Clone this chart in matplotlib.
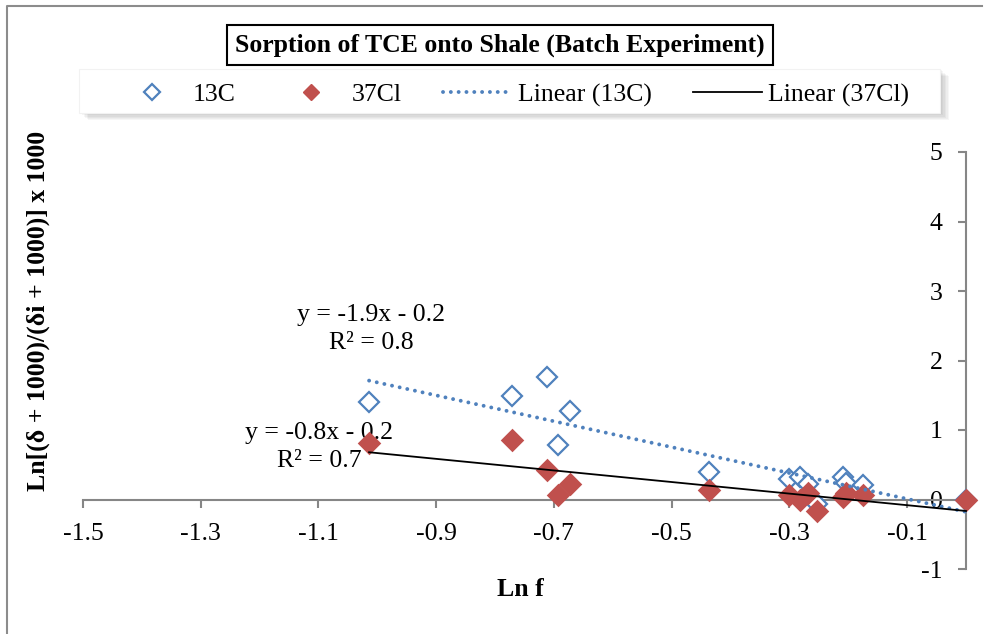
import numpy as np
import matplotlib.pyplot as plt
from matplotlib.lines import Line2D
from matplotlib.patches import Rectangle

plt.rcParams['font.family'] = ['Liberation Serif', 'DejaVu Serif']

# Ln f for each batch sample, with the isotope shifts of both elements
ln_f = [-1.014, -0.771, -0.712, -0.693, -0.673, -0.437, -0.301,
        -0.282, -0.268, -0.253, -0.209, -0.204, -0.175, 0.0]
shift_13c = [1.40, 1.49, 1.76, 0.79, 1.28, 0.39, 0.29,
             0.33, 0.23, -0.07, 0.33, 0.24, 0.21, 0.0]
shift_37cl = [0.82, 0.85, 0.42, 0.06, 0.22, 0.14, 0.06,
              -0.01, 0.09, -0.16, 0.04, 0.09, 0.06, 0.0]

x_ticks = [-1.5, -1.3, -1.1, -0.9, -0.7, -0.5, -0.3, -0.1]
y_ticks = [-1, 0, 1, 2, 3, 4, 5]

BLUE = '#4F81BD'
RED = '#C0504D'
GREY = '#868686'
FS = 18.5


def linear_fit(x, y):
    x = np.asarray(x)
    y = np.asarray(y)
    m, b = np.polyfit(x, y, 1)
    r2 = 1 - np.sum((y - (m * x + b)) ** 2) / np.sum((y - y.mean()) ** 2)
    return m, b, r2


def eq_text(m, b):
    sign = '-' if b < 0 else '+'
    return 'y = %.1fx %s %.1f' % (m, sign, abs(b))


fig = plt.figure(figsize=(9.91, 6.34), dpi=100)
ax = fig.add_axes([83 / 991, 1 - 569 / 634, (966 - 83) / 991, (569 - 152) / 634])

ax.plot(ln_f, shift_13c, linestyle='none', marker='D', markersize=10,
        markerfacecolor='white', markeredgecolor=BLUE, markeredgewidth=1.6,
        zorder=3, clip_on=False)
ax.plot(ln_f, shift_37cl, linestyle='none', marker='D', markersize=10,
        markerfacecolor=RED, markeredgecolor=RED, markeredgewidth=1.8,
        zorder=4, clip_on=False)

# trendlines over the span of the data
xs = np.array([min(ln_f), max(ln_f)])
m1, b1, r1 = linear_fit(ln_f, shift_13c)
m2, b2, r2 = linear_fit(ln_f, shift_37cl)
ax.plot(xs, m1 * xs + b1, color=BLUE, lw=2.8, linestyle=(0, (0.01, 2.0)),
        dash_capstyle='round', zorder=5, clip_on=False)
ax.plot(xs, m2 * xs + b2, color='black', lw=1.3, zorder=6, clip_on=False)

ax.text(-1.011, 2.65, eq_text(m1, b1), ha='center', va='center', fontsize=FS)
ax.text(-1.011, 2.245, 'R² = %.1f' % r1, ha='center', va='center', fontsize=FS)
ax.text(-1.099, 0.964, eq_text(m2, b2), ha='center', va='center', fontsize=FS)
ax.text(-1.099, 0.561, 'R² = %.1f' % r2, ha='center', va='center', fontsize=FS)

ax.set_xlim(-1.5, 0)
ax.set_ylim(-1, 5)
ax.set_xticks(x_ticks)
ax.set_xticklabels(['%.1f' % t for t in x_ticks])
ax.set_yticks(y_ticks)
ax.set_yticklabels([str(t) for t in y_ticks])

ax.spines['top'].set_visible(False)
ax.spines['right'].set_visible(False)
ax.spines['left'].set_position(('data', 0))
ax.spines['bottom'].set_position(('data', 0))
for s in ('left', 'bottom'):
    ax.spines[s].set_color(GREY)
    ax.spines[s].set_linewidth(1.5)
    ax.spines[s].set_zorder(2)
ax.tick_params(axis='both', direction='out', length=6, width=1.5,
               color=GREY, labelsize=FS)
ax.tick_params(axis='x', pad=11)
ax.tick_params(axis='y', pad=11)
ax.patch.set_visible(False)

fig.text(520 / 991, 1 - 590 / 634, 'Ln f', ha='center', va='center',
         fontsize=FS, fontweight='bold')
fig.text(38 / 991, 1 - 311 / 634, 'Ln[(δ + 1000)/(δi + 1000)] x 1000',
         ha='center', va='center', rotation=90, fontsize=FS, fontweight='bold')

fig.text(500 / 991, 1 - 45 / 634, 'Sorption of TCE onto Shale (Batch Experiment)',
         ha='center', va='center', fontsize=FS, fontweight='bold',
         bbox=dict(boxstyle='square,pad=0.32', fc='white', ec='black', lw=1.5))

# legend box with a soft drop shadow
lx0, lx1 = 79 / 991, 940 / 991
ly0, ly1 = 1 - 113 / 634, 1 - 69 / 634
for i in range(1, 7):
    fig.patches.append(Rectangle((lx0 + 1.5 * i / 991, ly0 - 1.2 * i / 634),
                                 lx1 - lx0, ly1 - ly0, transform=fig.transFigure,
                                 fc='black', ec='none', alpha=0.035, zorder=1))
fig.patches.append(Rectangle((lx0, ly0), lx1 - lx0, ly1 - ly0,
                             transform=fig.transFigure, fc='white',
                             ec='#F2F2F2', lw=0.8, zorder=2))

handles = [
    Line2D([], [], linestyle='none', marker='D', markersize=8.5,
           markerfacecolor='white', markeredgecolor=BLUE, markeredgewidth=1.6),
    Line2D([], [], linestyle='none', marker='D', markersize=8.5,
           markerfacecolor=RED, markeredgecolor=RED),
    Line2D([], [], color=BLUE, lw=2.8, linestyle=(0, (0.01, 2.0)),
           dash_capstyle='round'),
    Line2D([], [], color='black', lw=1.3),
]
labels = ['13C', '37Cl', 'Linear (13C)', 'Linear (37Cl)']
leg = fig.legend(handles, labels, loc='center', ncol=4,
                 bbox_to_anchor=(513 / 991, 1 - 95 / 634), frameon=False,
                 fontsize=FS, handlelength=2.72, handletextpad=0.2,
                 columnspacing=1.6, borderaxespad=0, borderpad=0)
leg.set_zorder(3)

# outer chart border
fig.add_artist(Line2D([7 / 991, 7 / 991, 982 / 991], [0, 1 - 6 / 634, 1 - 6 / 634],
                      transform=fig.transFigure, color='#8C8C8C', lw=1.5))

fig.savefig('out.png', dpi=100)
